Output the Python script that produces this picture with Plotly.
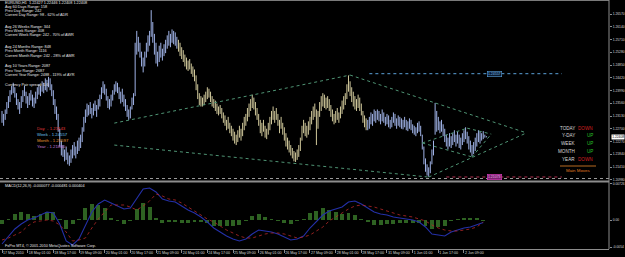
import plotly.graph_objects as go

W, H = 625, 257

# ---------------- data ----------------
# H1 bar highs / lows, in pips of the EURUSD quote (price = 1 + pips/10000)
high_pips = [
    2330, 2320, 2335, 2360, 2380, 2400, 2415, 2425, 2410, 2390, 2370, 2360, 2380, 2400, 2415, 2395, 2380, 2390, 2400, 2385,
    2375, 2395, 2410, 2420, 2415, 2430, 2425, 2440, 2435, 2445, 2440, 2420, 2400, 2370, 2345, 2320, 2270, 2230, 2215, 2200,
    2210, 2190, 2180, 2200, 2215, 2225, 2210, 2230, 2240, 2250, 2275, 2310, 2335, 2355, 2350, 2360, 2340, 2355, 2365, 2350,
    2370, 2385, 2410, 2430, 2420, 2405, 2380, 2370, 2385, 2400, 2420, 2430, 2425, 2410, 2395, 2405, 2385, 2370, 2350, 2335,
    2345, 2375, 2390, 2560, 2600, 2580, 2560, 2530, 2510, 2530, 2560, 2585, 2600, 2670, 2630, 2590, 2560, 2530, 2550, 2560,
    2540, 2555, 2570, 2585, 2600, 2590, 2605, 2600, 2595, 2580, 2570, 2560, 2545, 2535, 2520, 2510, 2500, 2505, 2490, 2480,
    2470, 2450, 2420, 2390, 2380, 2375, 2385, 2395, 2410, 2405, 2395, 2380, 2370, 2365, 2355, 2345, 2350, 2340, 2325, 2315,
    2300, 2310, 2290, 2280, 2270, 2260, 2250, 2265, 2280, 2270, 2290, 2310, 2320, 2340, 2355, 2370, 2385, 2375, 2360, 2340,
    2320, 2300, 2290, 2300, 2280, 2270, 2290, 2310, 2330, 2345, 2330, 2340, 2320, 2300, 2310, 2290, 2275, 2255, 2240, 2230,
    2215, 2205, 2195, 2190, 2200, 2215, 2240, 2280, 2300, 2290, 2280, 2295, 2310, 2330, 2345, 2355, 2335, 2330, 2360, 2380,
    2390, 2385, 2375, 2380, 2370, 2350, 2335, 2320, 2330, 2340, 2325, 2345, 2365, 2380, 2390, 2420, 2450, 2430, 2410, 2395,
    2380, 2370, 2385, 2375, 2355, 2330, 2315, 2305, 2300, 2310, 2325, 2320, 2335, 2330, 2335, 2330, 2320, 2335, 2325, 2310,
    2320, 2315, 2300, 2310, 2325, 2320, 2305, 2315, 2310, 2305, 2300, 2310, 2300, 2295, 2305, 2300, 2285, 2280, 2275, 2290,
    2295, 2280, 2250, 2210, 2170, 2150, 2140, 2160, 2200, 2230, 2357, 2330, 2310, 2295, 2300, 2285, 2270, 2250, 2240, 2255,
    2245, 2255, 2265, 2250, 2260, 2250, 2240, 2255, 2265, 2275, 2260, 2245, 2230, 2215, 2225, 2240, 2255, 2265, 2260, 2255,
    2262, 2250, 2245,
]
low_pips = [
    2290, 2280, 2300, 2320, 2340, 2360, 2385, 2390, 2375, 2350, 2335, 2320, 2340, 2360, 2380, 2355, 2340, 2350, 2365, 2345,
    2340, 2355, 2370, 2385, 2380, 2395, 2390, 2400, 2395, 2410, 2400, 2380, 2350, 2320, 2300, 2260, 2210, 2180, 2175, 2160,
    2165, 2150, 2145, 2155, 2170, 2180, 2170, 2185, 2195, 2205, 2225, 2260, 2290, 2310, 2315, 2320, 2305, 2315, 2330, 2310,
    2335, 2345, 2370, 2390, 2385, 2365, 2340, 2335, 2345, 2365, 2385, 2395, 2390, 2370, 2355, 2360, 2345, 2330, 2310, 2300,
    2305, 2335, 2350, 2380, 2520, 2530, 2510, 2480, 2460, 2480, 2510, 2530, 2550, 2580, 2560, 2520, 2490, 2480, 2495, 2510,
    2500, 2515, 2525, 2540, 2550, 2545, 2560, 2555, 2550, 2540, 2530, 2515, 2505, 2495, 2480, 2470, 2465, 2470, 2455, 2445,
    2430, 2400, 2370, 2350, 2345, 2345, 2350, 2360, 2370, 2375, 2360, 2345, 2340, 2330, 2320, 2315, 2320, 2305, 2290, 2280,
    2265, 2270, 2255, 2245, 2230, 2220, 2215, 2225, 2240, 2230, 2245, 2265, 2280, 2295, 2310, 2330, 2340, 2335, 2315, 2300,
    2280, 2255, 2245, 2260, 2240, 2235, 2250, 2265, 2285, 2300, 2290, 2300, 2280, 2255, 2270, 2250, 2230, 2210, 2200, 2190,
    2180, 2170, 2160, 2158, 2165, 2175, 2195, 2230, 2255, 2245, 2240, 2250, 2265, 2285, 2300, 2310, 2215, 2270, 2310, 2330,
    2345, 2340, 2335, 2340, 2330, 2310, 2295, 2285, 2290, 2300, 2290, 2305, 2320, 2335, 2350, 2370, 2395, 2380, 2360, 2345,
    2335, 2330, 2340, 2330, 2315, 2290, 2275, 2265, 2265, 2270, 2285, 2280, 2295, 2290, 2300, 2295, 2285, 2295, 2290, 2280,
    2285, 2275, 2270, 2275, 2290, 2280, 2270, 2280, 2275, 2270, 2268, 2275, 2265, 2262, 2270, 2265, 2255, 2250, 2245, 2255,
    2260, 2245, 2200, 2150, 2125, 2112, 2108, 2120, 2150, 2180, 2250, 2260, 2265, 2255, 2260, 2245, 2225, 2210, 2200, 2210,
    2205, 2215, 2225, 2210, 2220, 2205, 2200, 2215, 2225, 2235, 2220, 2200, 2190, 2178, 2185, 2195, 2210, 2225, 2220, 2230,
    2235, 2240, 2241,
]
bar_high = [1 + v / 10000 for v in high_pips]
bar_low = [1 + v / 10000 for v in low_pips]

time_ticks = [0, 16, 32, 48, 64, 80, 96, 112, 128, 144, 160, 176, 192, 208, 224, 240, 256, 272, 288]
time_labels = ["17 May 2010", "18 May 01:00", "18 May 17:00", "19 May 09:00", "20 May 01:00", "20 May 17:00",
               "21 May 09:00", "24 May 01:00", "24 May 17:00", "25 May 09:00", "26 May 01:00", "26 May 17:00",
               "27 May 09:00", "28 May 01:00", "28 May 17:00", "31 May 09:00", "1 Jun 01:00", "1 Jun 17:00",
               "2 Jun 09:00"]
price_ticks = [1.26570, 1.26140, 1.25710, 1.25280, 1.24850, 1.24420, 1.23990,
               1.23560, 1.23130, 1.22700, 1.22270, 1.21840, 1.21410, 1.20980]
last_price = 1.22408

# MACD(12,26,9) sampled every 4 bars
macd_idx = list(range(0, 301, 4))
macd_main = [
    -0.0048, -0.0034, -0.0018, -0.0008, 0.0000, 0.0004, 0.0010, 0.0016, 0.0014, -0.0008,
    -0.0042, -0.0050, -0.0038, -0.0012, 0.0016, 0.0032, 0.0040, 0.0034, 0.0028, 0.0022,
    0.0024, 0.0042, 0.0062, 0.0064, 0.0056, 0.0042, 0.0038, 0.0036, 0.0028, 0.0020,
    0.0014, 0.0006, -0.0004, -0.0016, -0.0024, -0.0032, -0.0038, -0.0042, -0.0038, -0.0028,
    -0.0020, -0.0022, -0.0024, -0.0028, -0.0034, -0.0040, -0.0038, -0.0032, -0.0016, -0.0004,
    0.0010, 0.0018, 0.0022, 0.0026, 0.0036, 0.0038, 0.0032, 0.0024, 0.0016, 0.0012,
    0.0010, 0.0006, 0.0004, 0.0002, 0.0000, -0.0004, -0.0014, -0.0028, -0.0030, -0.0032,
    -0.0024, -0.0020, -0.0016, -0.0014, -0.0010, -0.00048,
]
macd_signal = [
    -0.0040, -0.0036, -0.0030, -0.0024, -0.0012, -0.0004, -0.0002, 0.0000, -0.0002, -0.0010,
    -0.0024, -0.0042, -0.0040, -0.0036, -0.0016, 0.0002, 0.0016, 0.0030, 0.0030, 0.0030,
    0.0026, 0.0020, 0.0028, 0.0038, 0.0052, 0.0048, 0.0042, 0.0040, 0.0034, 0.0026,
    0.0018, 0.0010, 0.0002, -0.0004, -0.0012, -0.0020, -0.0026, -0.0032, -0.0036, -0.0036,
    -0.0032, -0.0028, -0.0026, -0.0026, -0.0028, -0.0032, -0.0036, -0.0034, -0.0030, -0.0022,
    -0.0014, -0.0002, 0.0006, 0.0014, 0.0022, 0.0028, 0.0030, 0.0028, 0.0026, 0.0022,
    0.0018, 0.0014, 0.0010, 0.0008, 0.0006, 0.0002, -0.0002, -0.0010, -0.0016, -0.0020,
    -0.0022, -0.0022, -0.0020, -0.0018, -0.0014, -0.000404,
]
macd_hist = [
    -0.0008, 0.0002, 0.0012, 0.0016, 0.0012, 0.0008, 0.0012, 0.0016, 0.0016, 0.0002,
    -0.0018, -0.0008, 0.0002, 0.0024, 0.0032, 0.0030, 0.0024, 0.0004, -0.0002, -0.0008,
    -0.0002, 0.0022, 0.0034, 0.0026, 0.0004, -0.0006, -0.0004, -0.0004, -0.0006, -0.0006,
    -0.0004, -0.0004, -0.0006, -0.0012, -0.0012, -0.0012, -0.0012, -0.0010, -0.0002, 0.0008,
    0.0012, 0.0006, 0.0002, -0.0002, -0.0006, -0.0008, -0.0002, 0.0002, 0.0014, 0.0018,
    0.0024, 0.0020, 0.0016, 0.0012, 0.0014, 0.0010, 0.0002, -0.0004, -0.0010, -0.0010,
    -0.0008, -0.0008, -0.0006, -0.0006, -0.0006, -0.0006, -0.0012, -0.0018, -0.0014, -0.0012,
    -0.0002, 0.0002, 0.0004, 0.0004, 0.0004, -0.000077,
]
macd_ticks = [0.00726, 0.0, -0.0054]
macd_tick_text = ["0.00726", "0.00", "-0.0054"]

# drawn trendlines: (bar, price) -> (bar, price)
trend_lines = [
    ((70, 1.2289), (217, 1.2451)),
    ((217, 1.2451), (327, 1.2256)),
    ((70, 1.2215), (266, 1.2107)),
    ((266, 1.2107), (327, 1.2256)),
    ((262, 1.2222), (290, 1.2272)),
    ((290, 1.2272), (305, 1.2252)),
    ((262, 1.2222), (293, 1.2175)),
    ((293, 1.2175), (305, 1.2252)),
]
week_level, week_span = 1.24557, (229, 349)
support_level, support_span = 1.21073, (277, 349)
bottom_dotted = 1.21022

info_lines = [
    "EURUSD,H1  1.22427 1.22446 1.22408 1.22408",
    "Avg 60 Days Range: 158", "Prev Day Range: 242", "Current Day Range: 98 - 62% of ADR",
    "Avg 26 Weeks Range: 344", "Prev Week Range: 408", "Current Week Range: 242 - 70% of AWR",
    "Avg 24 Months Range: 848", "Prev Month Range: 1116", "Current Month Range: 242 - 28% of AMR",
    "Avg 10 Years Range: 2087", "Prev Year Range: 2687", "Current Year Range: 2488 - 119% of AYR",
    "Currency Pair spread: 1.6",
]
level_labels = ["Day  - 1.23143", "Week - 1.24557", "Month - 1.25597", "Year - 1.21860"]
trend_names = ["TODAY", "Y-DAY", "WEEK", "MONTH", "YEAR"]
trend_states = ["DOWN", "UP", "UP", "UP", "DOWN"]

# ---------------- styling ----------------
FONT = "Liberation Sans"
BLUE_BAR = "#9fb2e6"
TAN_BAR = "#cfc79a"
tan_start, tan_end = 110, 228


def fx(px):
    return px / W


def fy(py):
    return 1 - py / H


fig = go.Figure()


def add_bars(idx_list, color):
    xs, ys = [], []
    for i in idx_list:
        xs += [i, i, None]
        ys += [bar_low[i], bar_high[i], None]
    fig.add_trace(go.Scatter(x=xs, y=ys, mode="lines", line=dict(color=color, width=1),
                             hoverinfo="skip", xaxis="x", yaxis="y"))


n = len(bar_high)
add_bars([i for i in range(n) if i < tan_start or i >= tan_end], BLUE_BAR)
add_bars([i for i in range(n) if tan_start <= i < tan_end], TAN_BAR)

# MACD panel
fig.add_trace(go.Bar(x=macd_idx, y=macd_hist, width=2.4, marker=dict(color="#2e6222", line=dict(width=0)),
                     xaxis="x", yaxis="y2", hoverinfo="skip"))
fig.add_trace(go.Scatter(x=macd_idx, y=macd_main, mode="lines", line=dict(color="#2430a8", width=1.1),
                         xaxis="x", yaxis="y2", hoverinfo="skip"))
fig.add_trace(go.Scatter(x=macd_idx, y=macd_signal, mode="lines", line=dict(color="#b82828", width=0.8, dash="dot"),
                         xaxis="x", yaxis="y2", hoverinfo="skip"))

shapes = []
for (a, b) in trend_lines:
    shapes.append(dict(type="line", xref="x", yref="y", x0=a[0], y0=a[1], x1=b[0], y1=b[1],
                       line=dict(color="#4f9474", width=1, dash="dot")))
shapes.append(dict(type="line", xref="x", yref="y", x0=week_span[0], x1=week_span[1], y0=week_level, y1=week_level,
                   line=dict(color="#5aa0d8", width=1, dash="dot")))
shapes.append(dict(type="line", xref="x", yref="y", x0=support_span[0], x1=support_span[1], y0=support_level,
                   y1=support_level, line=dict(color="#b03050", width=1, dash="dot")))
shapes.append(dict(type="line", xref="paper", yref="y", x0=0, x1=fx(609), y0=bottom_dotted, y1=bottom_dotted,
                   line=dict(color="#9a9a9a", width=1, dash="dot")))
# frame
shapes += [
    dict(type="line", xref="paper", yref="paper", x0=0, x1=fx(609), y0=fy(0.5), y1=fy(0.5),
         line=dict(color="#7a7a7a", width=1)),
    dict(type="line", xref="paper", yref="paper", x0=0, x1=fx(609), y0=fy(181.5), y1=fy(181.5),
         line=dict(color="#8c8c8c", width=2)),
    dict(type="line", xref="paper", yref="paper", x0=fx(609), x1=fx(609), y0=fy(0), y1=fy(249),
         line=dict(color="#8c8c8c", width=1)),
]

ann = []
info_y = [3.3, 7.4, 11.3, 15.3, 27.3, 31.4, 35.5, 47.3, 51.4, 55.5, 66.5, 70.6, 74.7, 85.5]
for t, yy in zip(info_lines, info_y):
    ann.append(dict(text=t, x=fx(3), y=fy(yy), xref="paper", yref="paper", xanchor="left", yanchor="middle",
                    showarrow=False, font=dict(family=FONT, size=3.8, color="#e6e6e6")))
lvl_colors = ["#e03a3a", "#6cc6f0", "#e89a30", "#c67ad8"]
for k, (t, c) in enumerate(zip(level_labels, lvl_colors)):
    ann.append(dict(text=t, x=fx(35), y=fy(128 + 6 * k), xref="paper", yref="paper", xanchor="left",
                    yanchor="middle", showarrow=False, font=dict(family=FONT, size=4.3, color=c)))
for k, (nm, st) in enumerate(zip(trend_names, trend_states)):
    yy = fy(128 + 7.8 * k)
    ann.append(dict(text=nm, x=fx(577), y=yy, xref="paper", yref="paper", xanchor="right", yanchor="middle",
                    showarrow=False, font=dict(family=FONT, size=4.6, color="#d8d8d8")))
    ann.append(dict(text=st, x=fx(595), y=yy, xref="paper", yref="paper", xanchor="right", yanchor="middle",
                    showarrow=False, font=dict(family=FONT, size=4.6,
                                               color="#d42020" if st == "DOWN" else "#28c028")))
shapes.append(dict(type="line", xref="paper", yref="paper", x0=fx(560), x1=fx(596), y0=fy(166), y1=fy(166),
                   line=dict(color="#b86a20", width=1)))
ann.append(dict(text="Main Moves", x=fx(578), y=fy(170.5), xref="paper", yref="paper", xanchor="center",
                yanchor="middle", showarrow=False, font=dict(family=FONT, size=4.4, color="#e07a20")))

ann.append(dict(text="MACD(12,26,9) -0.000077 -0.000481 0.000404", x=fx(3), y=fy(185.5), xref="paper",
                yref="paper", xanchor="left", yanchor="middle", showarrow=False,
                font=dict(family=FONT, size=3.8, color="#e6e6e6")))
ann.append(dict(text="FxPro MT4, \u00a9 2001-2010 MetaQuotes Software Corp.", x=fx(3), y=fy(245.5),
                xref="paper", yref="paper", xanchor="left", yanchor="middle", showarrow=False,
                font=dict(family=FONT, size=3.8, color="#e6e6e6")))

# price boxes on horizontal levels
ann.append(dict(text=f"{week_level:.5f}", x=307, y=week_level, xref="x", yref="y", showarrow=False,
                font=dict(family=FONT, size=3.5, color="#7cc0f0"), bgcolor="#0a1a30", bordercolor="#5aa0d8",
                borderwidth=0.6, borderpad=0.3))
ann.append(dict(text=f"{support_level:.5f}", x=307, y=support_level, xref="x", yref="y", showarrow=False,
                font=dict(family=FONT, size=3.5, color="#f0b0e8"), bgcolor="#7a2070", bordercolor="#e040c0",
                borderwidth=0.6, borderpad=0.3))
# current price marker on the axis
ann.append(dict(text=f"{last_price:.5f}", x=fx(611), y=last_price, xref="paper", yref="y", xanchor="left",
                yanchor="middle", showarrow=False, font=dict(family=FONT, size=3.3, color="#000000"),
                bgcolor="#ffffff", borderpad=0.2))

fig.update_layout(
    width=W, height=H, margin=dict(l=0, r=0, t=0, b=0, autoexpand=False),
    paper_bgcolor="#000000", plot_bgcolor="#000000", showlegend=False, bargap=0,
    font=dict(family=FONT, color="#d0d0d0"),
    xaxis=dict(domain=[0, fx(609)], range=[-1.25, 378.4], anchor="y2", tickmode="array",
               tickvals=time_ticks, ticktext=time_labels, ticklabelposition="outside right", tickangle=0,
               automargin=False, ticks="outside", ticklen=3, tickcolor="#8c8c8c",
               tickfont=dict(family=FONT, size=3.6, color="#d8d8d8"),
               showgrid=False, zeroline=False, showline=True, linecolor="#8c8c8c", linewidth=1),
    yaxis=dict(domain=[fy(181), fy(2)], range=[1.209379, 1.269747], side="right", anchor="x", automargin=False,
               tickmode="array", tickvals=price_ticks, ticktext=[f"{p:.5f}" for p in price_ticks],
               ticks="outside", ticklen=2, tickcolor="#8c8c8c", tickfont=dict(family=FONT, size=3.3, color="#d8d8d8"),
               showgrid=False, zeroline=False, showline=False),
    yaxis2=dict(domain=[fy(249), fy(183)], range=[-0.0058, 0.0074], side="right", anchor="x", automargin=False,
                tickmode="array", tickvals=macd_ticks, ticktext=macd_tick_text,
                ticks="outside", ticklen=2, tickcolor="#8c8c8c", tickfont=dict(family=FONT, size=3.3, color="#d8d8d8"),
                showgrid=False, zeroline=False, showline=False),
    shapes=shapes, annotations=ann,
)

fig.write_html("out.html")
